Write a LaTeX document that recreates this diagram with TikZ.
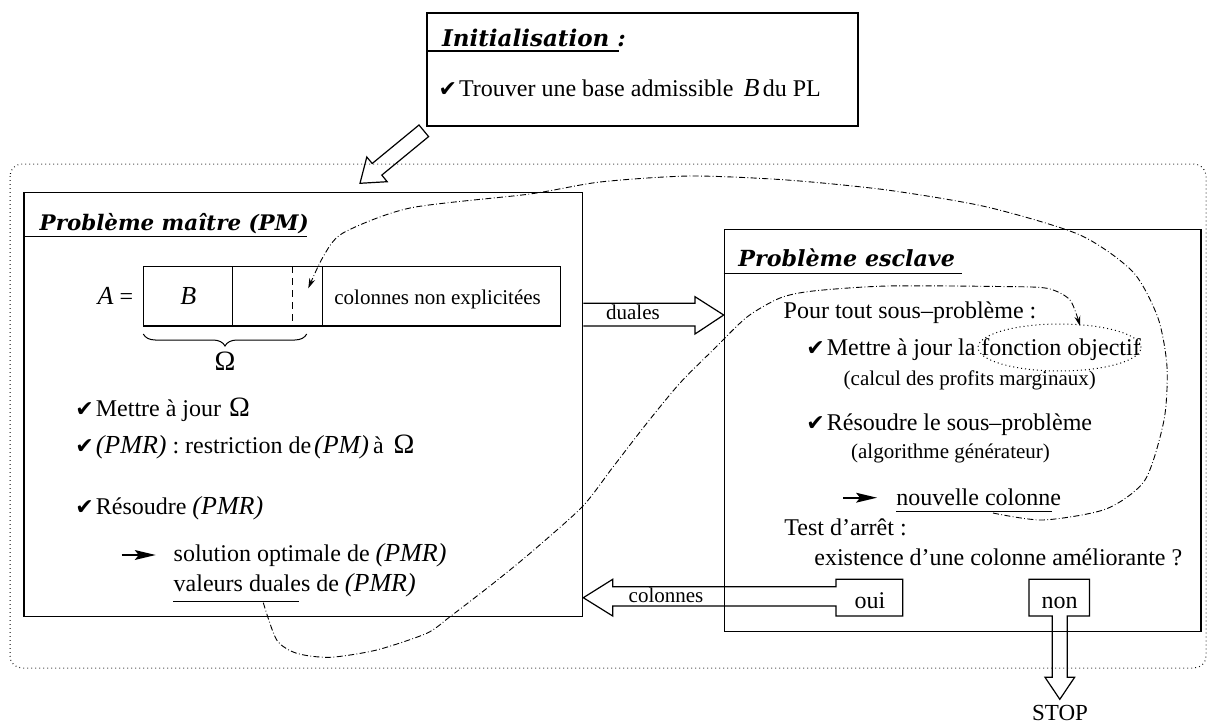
\documentclass[tikz,border=0pt]{standalone}
\usepackage{fontspec}
\setmainfont{Liberation Serif}
\newfontfamily\symfont{DejaVu Sans}
\newfontfamily\ttlfont{DejaVu Serif}
\usetikzlibrary{shapes.geometric,decorations.pathreplacing,arrows.meta}
\newcommand{\chk}{{\symfont\fontsize{11}{12}\selectfont ✔}\hspace{1pt}}
\newcommand{\mi}[1]{{\fontsize{13}{14}\selectfont\itshape #1}}
\newcommand{\Om}{{\fontsize{14}{15}\selectfont Ω}}
\begin{document}
\begin{tikzpicture}[x=0.5pt,y=-0.5pt,
  box/.style={draw, line width=0.6pt, inner sep=0pt},
  txt/.style={anchor=base west, inner sep=0pt, font=\fontsize{12}{14}\selectfont},
  small/.style={anchor=base west, inner sep=0pt, font=\fontsize{10.5}{12}\selectfont},
  ttl/.style={anchor=base west, inner sep=0pt},
  uline/.style={line width=0.6pt},
  hollow/.style={draw, line width=0.6pt, line join=miter},
  dashdot/.style={line width=0.45pt, dash pattern=on 3pt off 1.2pt on 0.4pt off 1.2pt},
  frame/.style={line width=0.5pt, dash pattern=on 0.4pt off 1.6pt},
  tipa/.style={-{Stealth[length=5pt,width=3pt]}},
  pics/darrow/.style={code={
    \draw[line width=0.8pt] (0,0) -- (18,0);
    \fill (13,-5) -- (34,0) -- (13,5) -- (17,0) -- cycle;
  }}
]
\useasboundingbox (0,0) rectangle (1214,723);

% outer dotted frame
\draw[frame, rounded corners=6pt] (10,164) rectangle (1206,668);

% boxes
\node[box, minimum width=215.5pt, minimum height=56.5pt] (init) at (642.5,69.5) {};
\node[box, minimum width=279.35pt, minimum height=212.1pt] (pm) at (303.35,404.4) {};
\node[box, minimum width=238.35pt, minimum height=201.2pt] (sl) at (962.65,430.5) {};
\node[box, minimum width=208.65pt, minimum height=29.65pt] (tab) at (351.95,296.35) {};

% table dividers
\draw[line width=0.6pt] (tab.north -| 232.7,0) -- (tab.south -| 232.7,0);
\draw[line width=0.6pt] (tab.north -| 322.3,0) -- (tab.south -| 322.3,0);
\draw[line width=0.6pt, dash pattern=on 3.5pt off 2.5pt] (tab.north -| 292.7,0) -- (tab.south -| 292.7,0);

% Initialisation
\node[ttl, font=\ttlfont\fontsize{11.5}{13}\selectfont\bfseries\itshape] (tinit) at (441.7,46.7) {Initialisation :};
\draw[uline] (init.west |- 0,51) -- (619,51);
\node[txt] (tbase) at (438.3,96.7) {\chk Trouver une base admissible\hspace{5pt}\mi{B}\hspace{1.7pt}du PL};

% Probleme maitre
\node[ttl, font=\ttlfont\fontsize{10.7}{13}\selectfont\bfseries\itshape] (tpm) at (39.3,230) {Problème maître (PM)};
\draw[uline] (pm.west |- 0,236.7) -- (306.7,236.7);
\node[txt] (aeq) at (97.3,304) {\mi{A} =};
\node[txt, anchor=base] (bb) at (188.3,304) {\mi{B}};
\node[small] (cne) at (334,304) {colonnes non explicitées};
\draw[decorate, decoration={brace, mirror, amplitude=6pt}, line width=0.5pt] (143.3,334) -- (306.7,334);
\node[txt, anchor=base] (om) at (225,370) {\Om};
\node[txt] (m1) at (75,416.7) {\chk Mettre à jour\hspace{4pt}\Om};
\node[txt] (m2) at (75,453.3) {\chk\mi{(PMR)}\hspace{3pt}: restriction de\hspace{1.5pt}\mi{(PM)}\hspace{2pt}à\hspace{5pt}\Om};
\node[txt] (m3) at (75,514) {\chk Résoudre \mi{(PMR)}};
\pic at (121.7,555) {darrow};
\node[txt] (sol) at (173.3,561.7) {solution optimale de \mi{(PMR)}};
\node[txt] (vd) at (173.3,591.7) {valeurs duales de \mi{(PMR)}};
\draw[uline] (173.3,601.7) -- (299.3,601.7);

% Probleme esclave
\node[ttl, font=\ttlfont\fontsize{11.1}{13}\selectfont\bfseries\itshape] (tsl) at (738,266.7) {Problème esclave};
\draw[uline] (sl.west |- 0,273.3) -- (962,273.3);
\node[txt] (pour) at (783.3,318.3) {Pour tout sous–problème :};
\node[txt] (maj) at (806,355) {\chk Mettre à jour la fonction objectif};
\node[small] (calc) at (843.3,385) {(calcul des profits marginaux)};
\node[txt] (res) at (806,430) {\chk Résoudre le sous–problème};
\node[small] (algo) at (850.7,458.3) {(algorithme générateur)};
\pic at (843,497.7) {darrow};
\node[txt] (nc) at (896,505) {nouvelle colonne};
\draw[uline] (896,511.7) -- (1051.7,511.7);
\node[txt] (test) at (784,535) {Test d’arrêt :};
\node[txt] (exist) at (814,565) {existence d’une colonne améliorante ?};

\node[ellipse, draw, line width=0.5pt, dash pattern=on 0.5pt off 1.5pt, minimum width=81.5pt, minimum height=23.5pt, inner sep=0pt] (obj) at (1059.5,347.5) {};

% hollow arrows
\draw[hollow] (428.6,136.6) -- (381.8,175.1) -- (387.2,181.7) -- (360,183.3) -- (366.8,157.0) -- (372.2,163.5) -- (419,125) -- cycle;
\draw[hollow] (pm.east |- 0,303.3) -- (695,303.3) -- (695,296.7) -- (sl.west |- 0,315) -- (695,334) -- (695,326) -- (pm.east |- 0,326);
\node[small] (dl) at (605.7,319) {duales};

\draw[hollow] (pm.east |- 0,597.7) -- (612.7,579.3) -- (612.7,586.7) -- (836,586.7) -- (836,579.3) -- (902.7,579.3) -- (902.7,616) -- (836,616) -- (836,606) -- (612.7,606) -- (612.7,616) -- cycle;
\node[small] (col) at (628.3,602.3) {colonnes};
\node[txt, anchor=base] (oui) at (870,608.3) {oui};

\draw[hollow] (1029,579.3) -- (1089.5,579.3) -- (1089.5,616) -- (1067.3,616) -- (1067.3,677.3) -- (1074.6,677.3) -- (1059.8,699.3) -- (1045,677.3) -- (1052.3,677.3) -- (1052.3,616) -- (1029,616) -- cycle;
\node[txt, anchor=base] (non) at (1059.5,608.3) {non};
\node[txt, anchor=base, font=\fontsize{11.5}{13}\selectfont] (stop) at (1060,720) {STOP};

% dash-dot curves
\coordinate (c1s) at (993,513);
\coordinate (c1e) at (308.3,288.3);
\draw[dashdot, tipa] plot[smooth, tension=0.45] coordinates {(c1s) (1043,520) (1106,509) (1145,480) (1164,420) (1167,367) (1158,318) (1133,272) (1080,235) (987,207) (887,190) (787,180) (690,176) (600,182) (530,194) (410,208) (343,233) (323,257) (c1e)};

\coordinate (c2s) at (263.3,602.7);
\coordinate (c2e) at (1080,326);
\draw[dashdot, tipa] plot[smooth, tension=0.45] coordinates {(c2s) (276.7,640) (296.7,653.3) (330,657.3) (376.7,650) (426.7,633.3) (450,616.7) (493.3,583.3) (530,553.3) (582,507) (613,467) (647,423) (680,383) (713,350) (747,317) (780,298) (813,291) (887,286) (1000,286.5) (1047,288.3) (1070,300) (c2e)};
\end{tikzpicture}
\end{document}
